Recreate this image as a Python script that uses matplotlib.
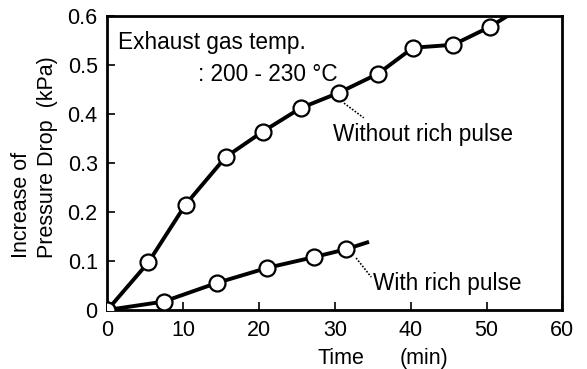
import matplotlib
matplotlib.use("Agg")
import matplotlib.pyplot as plt
from matplotlib.transforms import blended_transform_factory

# Data
t_without = [0, 5.4, 10.3, 15.6, 20.5, 25.5, 30.5, 35.7, 40.3, 45.6, 50.5]
p_without = [0, 0.097, 0.215, 0.312, 0.364, 0.412, 0.443, 0.482, 0.535, 0.541, 0.578]
t_without_end = [50.5, 53.5]
p_without_end = [0.578, 0.607]

t_with = [0, 7.4, 14.4, 21.1, 27.3, 31.5]
p_with = [0, 0.017, 0.055, 0.086, 0.108, 0.124]
t_with_end = [31.5, 34.5]
p_with_end = [0.124, 0.139]

x_ticks = [0, 10, 20, 30, 40, 50, 60]
y_ticks = [0, 0.1, 0.2, 0.3, 0.4, 0.5, 0.6]
y_tick_labels = ["0", "0.1", "0.2", "0.3", "0.4", "0.5", "0.6"]

plt.rcParams['font.family'] = ['Liberation Sans', 'DejaVu Sans']
FS = 15.5
FT = 16.3

fig = plt.figure(figsize=(5.87, 3.69), dpi=100)
ax = fig.add_axes([0.183, 0.160, 0.775, 0.797])

line_kw = dict(color='black', lw=2.8, solid_capstyle='butt')
mk_kw = dict(marker='o', ms=11.5, mfc='white', mec='black', mew=1.6)

ax.plot(t_without, p_without, **line_kw, **mk_kw, zorder=3)
ax.plot(t_without_end, p_without_end, **line_kw, zorder=2)
ax.plot(t_with, p_with, **line_kw, **mk_kw, zorder=3)
ax.plot(t_with_end, p_with_end, **line_kw, zorder=2)

ax.set_xlim(0, 60)
ax.set_ylim(0, 0.6)
ax.set_xticks(x_ticks)
ax.set_yticks(y_ticks)
ax.set_yticklabels(y_tick_labels)
ax.tick_params(direction='in', length=6, width=1.2, labelsize=FS, pad=7,
               top=False, right=False)
for s in ax.spines.values():
    s.set_linewidth(2.0)

# annotations
ax.text(1.4, 0.545, "Exhaust gas temp.", fontsize=FT, ha='left', va='center')
ax.text(12.0, 0.48, ": 200 - 230 °C", fontsize=FT, ha='left', va='center')
ax.text(29.7, 0.357, "Without rich pulse", fontsize=FT, ha='left', va='center')
ax.text(35.0, 0.055, "With rich pulse", fontsize=FT, ha='left', va='center')
ax.plot([31.2, 33.8], [0.422, 0.392], color='black', lw=1.2, ls=(0, (1, 1)))
ax.plot([32.8, 34.8], [0.106, 0.067], color='black', lw=1.2, ls=(0, (1, 1)))

# x label as two pieces
tr = blended_transform_factory(ax.transData, ax.transAxes)
ax.text(30.8, -0.165, "Time", fontsize=FS, ha='center', va='center', transform=tr)
ax.text(41.8, -0.165, "(min)", fontsize=FS, ha='center', va='center', transform=tr)

# y label, two lines bottom aligned
fig.text(22 / 587, 1 - 258 / 369, "Increase of", fontsize=FS, rotation=90,
         ha='center', va='bottom')
fig.text(47 / 587, 1 - 258 / 369, "Pressure Drop  (kPa)", fontsize=FS, rotation=90,
         ha='center', va='bottom')

fig.savefig("out.png", dpi=100)
